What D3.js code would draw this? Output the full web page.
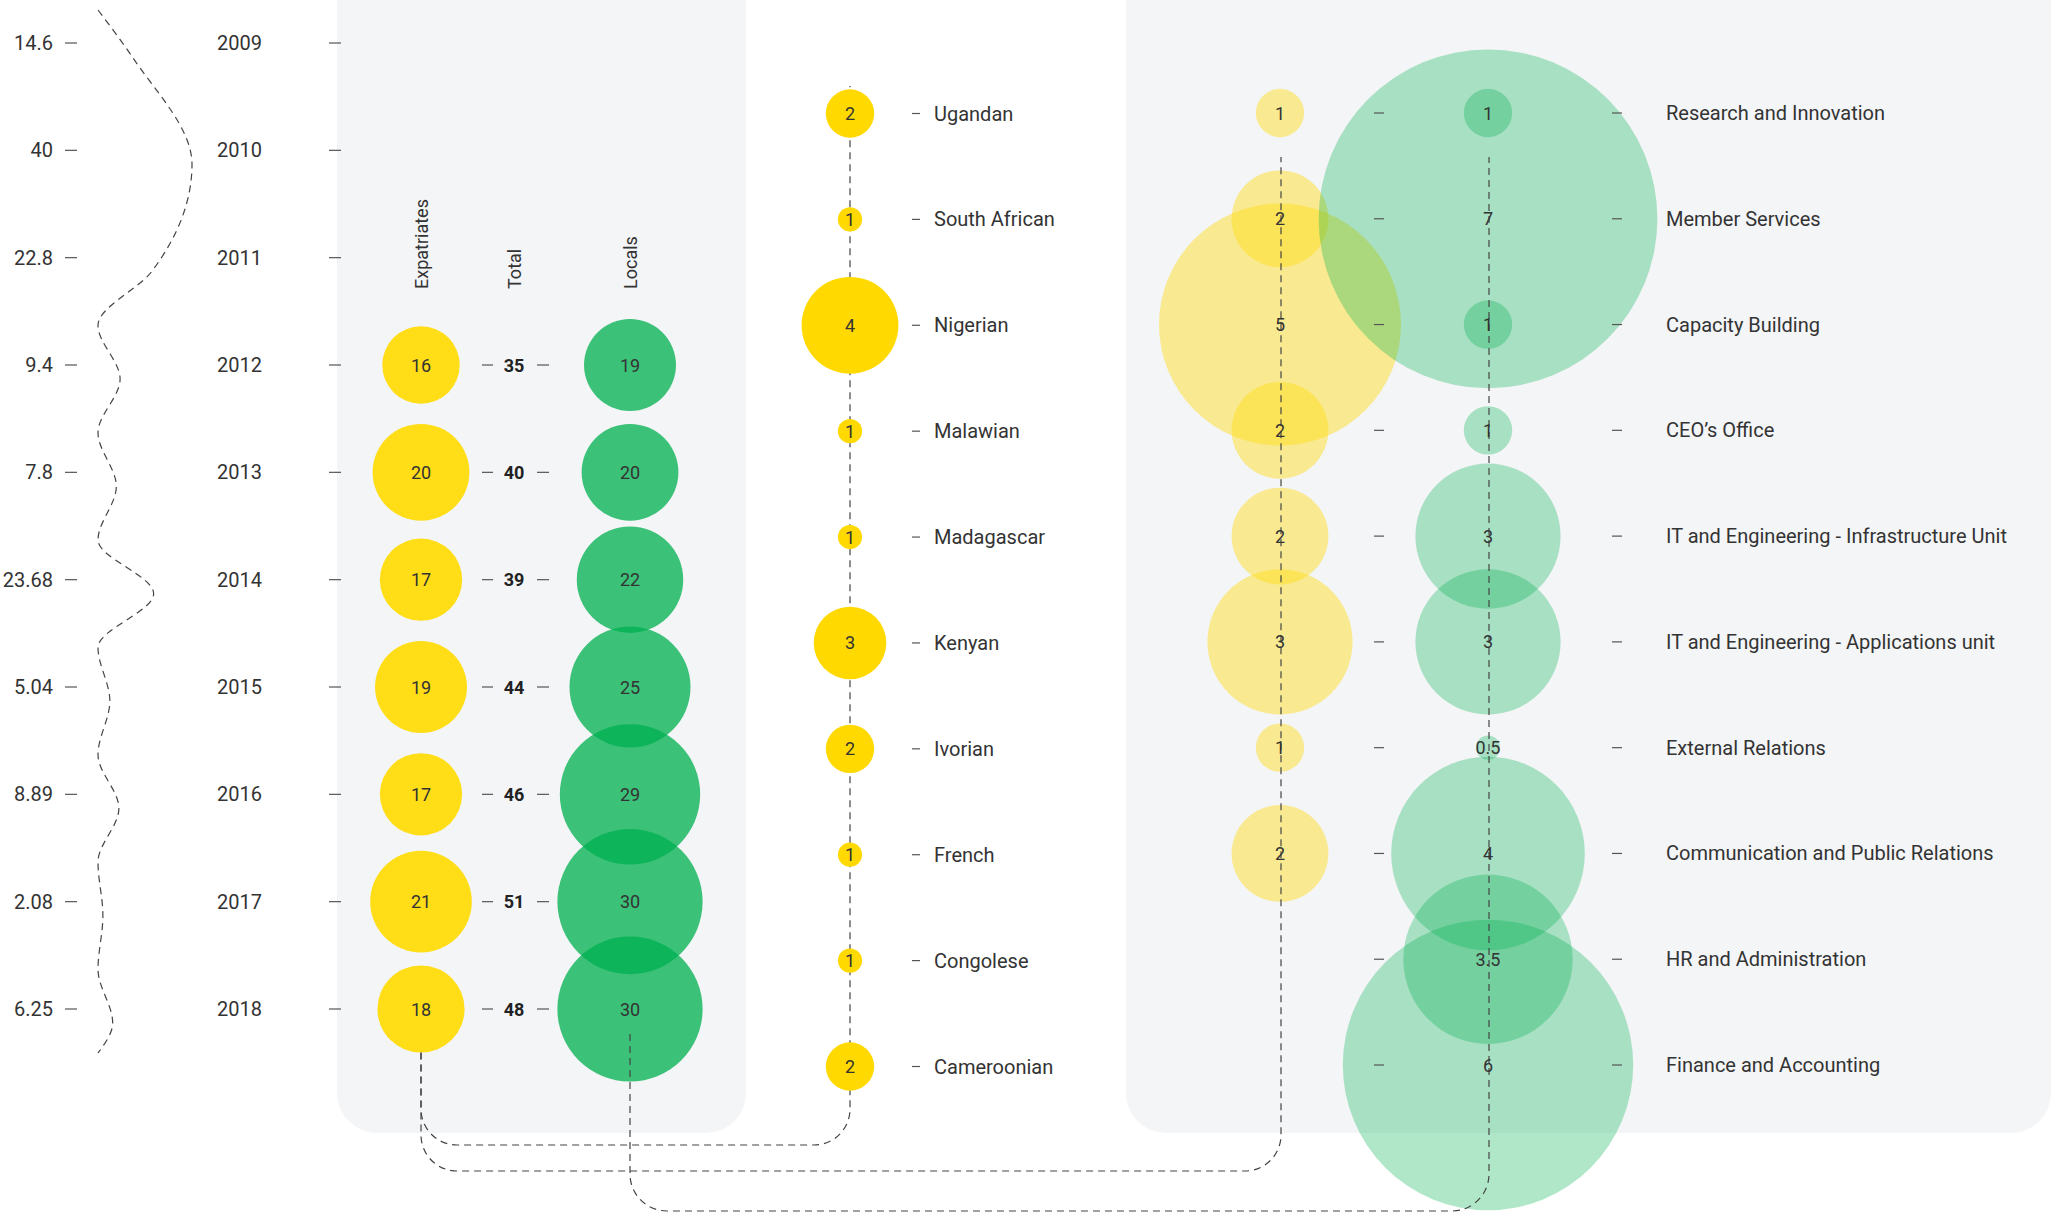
<!DOCTYPE html>
<html>
<head>
<meta charset="utf-8">
<title>Staff composition</title>
<script src="https://d3js.org/d3.v7.min.js"></script>
<style>
    html, body {
        margin: 0;
        padding: 0;
        background: #FFF;
    }
    svg {
        display: block;
        font-family: Roboto, "Noto Sans", sans-serif;
    }
    .label {
        fill: #333;
        font-size: 20px;
        dominant-baseline: central;
    }
    .header {
        fill: #333;
        font-size: 18px;
        dominant-baseline: central;
    }
    .value {
        fill: #333;
        font-size: 18px;
        text-anchor: middle;
        dominant-baseline: central;
    }
    .total {
        fill: #222;
        font-size: 18px;
        font-weight: bold;
        text-anchor: middle;
        dominant-baseline: central;
    }
    .tick {
        stroke: #555;
        stroke-width: 1.2;
    }
    .link {
        fill: none;
        stroke: #444;
        stroke-width: 1.2;
        stroke-dasharray: 7 5;
    }
</style>
</head>
<body>
<svg id="chart" width="2051" height="1213"></svg>
<script>
    // data
    const years = [2009, 2010, 2011, 2012, 2013, 2014, 2015, 2016, 2017, 2018];
    const growth = [14.6, 40, 22.8, 9.4, 7.8, 23.68, 5.04, 8.89, 2.08, 6.25];
    const staffYears = [2012, 2013, 2014, 2015, 2016, 2017, 2018];
    const expatriates = [16, 20, 17, 19, 17, 21, 18];
    const locals = [19, 20, 22, 25, 29, 30, 30];
    const nationalities = ['Ugandan', 'South African', 'Nigerian', 'Malawian', 'Madagascar',
        'Kenyan', 'Ivorian', 'French', 'Congolese', 'Cameroonian'];
    const nationalityCounts = [2, 1, 4, 1, 1, 3, 2, 1, 1, 2];
    const departments = ['Research and Innovation', 'Member Services', 'Capacity Building', 'CEO’s Office',
        'IT and Engineering - Infrastructure Unit', 'IT and Engineering - Applications unit',
        'External Relations', 'Communication and Public Relations', 'HR and Administration',
        'Finance and Accounting'];
    const deptExpatriates = [1, 2, 5, 2, 2, 3, 1, 2, null, null];
    const deptLocals = [1, 7, 1, 1, 3, 3, 0.5, 4, 3.5, 6];

    const yellow = '#FFDD17';
    const green = '#00B050';

    const svg = d3.select('#chart');

    // scales
    const yYear = d3.scalePoint().domain(years).range([43, 1009]);
    const yNat = d3.scalePoint().domain(nationalities).range([113.5, 1066.5]);
    const yDept = d3.scalePoint().domain(departments).range([113, 1065]);
    const rYear = d3.scaleLinear().domain([0, 30]).range([0, 72.6]);
    const rNat = d3.scaleLinear().domain([0, 4]).range([0, 48.4]);
    const rDept = d3.scaleLinear().domain([0, 7]).range([0, 169.4]);
    const xGrowth = d3.scaleLinear().domain([0, 40]).range([98, 192]);

    const xExp = 421, xTot = 514, xLoc = 630;
    const xNat = 850, xNatLabel = 934;
    const xDeptExp = 1281, xDeptLoc = 1489, xDeptLabel = 1666;

    // panels
    const gPanels = svg.append('g');
    gPanels.append('rect')
        .attr('x', 337).attr('y', -60)
        .attr('width', 409).attr('height', 1193)
        .attr('rx', 40).attr('fill', '#F4F5F7');
    gPanels.append('rect')
        .attr('x', 1126).attr('y', -60)
        .attr('width', 925).attr('height', 1193)
        .attr('rx', 40).attr('fill', '#F4F5F7');

    // growth column
    const growthRows = years.map((y, i) => ({year: y, v: growth[i]}));
    svg.append('g').selectAll('text')
        .data(growthRows)
        .join('text')
        .attr('class', 'label')
        .attr('x', 53)
        .attr('y', d => yYear(d.year))
        .attr('text-anchor', 'end')
        .text(d => d.v);
    svg.append('g').selectAll('line')
        .data(growthRows)
        .join('line')
        .attr('class', 'tick')
        .attr('x1', 65).attr('x2', 77)
        .attr('y1', d => yYear(d.year)).attr('y2', d => yYear(d.year));

    // wavy growth line
    const wave = [[xGrowth(0), 10]];
    growthRows.forEach((d, i) => {
        const yy = yYear(d.year) + 14;
        wave.push([xGrowth(d.v), yy]);
        const next = growthRows[i + 1];
        if (next && Math.min(d.v, next.v) < 10) {
            wave.push([xGrowth(0), (yy + yYear(next.year) + 14) / 2]);
        }
    });
    wave.push([xGrowth(0), 1053]);
    svg.append('path')
        .attr('class', 'link')
        .attr('d', d3.line().curve(d3.curveMonotoneY)(wave));

    // years
    svg.append('g').selectAll('text')
        .data(years)
        .join('text')
        .attr('class', 'label')
        .attr('x', 217)
        .attr('y', d => yYear(d))
        .text(d => d);
    svg.append('g').selectAll('line')
        .data(years)
        .join('line')
        .attr('class', 'tick')
        .attr('x1', 329).attr('x2', 341)
        .attr('y1', d => yYear(d)).attr('y2', d => yYear(d));

    // column headers
    [['Expatriates', xExp], ['Total', xTot], ['Locals', xLoc]].forEach(([t, x]) => {
        svg.append('text')
            .attr('class', 'header')
            .attr('transform', `translate(${x},289) rotate(-90)`)
            .text(t);
    });

    // connectors
    function link(points, radius) {
        const p = d3.path();
        p.moveTo(points[0][0], points[0][1]);
        for (let i = 1; i < points.length - 1; i++) {
            p.arcTo(points[i][0], points[i][1], points[i + 1][0], points[i + 1][1], radius);
        }
        const last = points[points.length - 1];
        p.lineTo(last[0], last[1]);
        return p.toString();
    }
    const lastYear = staffYears.length - 1;
    const expBottom = yYear(staffYears[lastYear]) + rYear(expatriates[lastYear]);
    const linkData = [
        [[xExp, expBottom], [xExp, 1145], [xNat, 1145], [xNat, 86]],
        [[xExp, expBottom], [xExp, 1171], [xDeptExp, 1171], [xDeptExp, 157]],
        [[xLoc, yYear(staffYears[lastYear]) + 25], [xLoc, 1211], [xDeptLoc, 1211], [xDeptLoc, 157]]
    ];

    // nationality line goes behind its circles
    svg.append('path').attr('class', 'link').attr('d', link(linkData[0], 36));

    // yearly circles
    const staff = staffYears.map((y, i) => ({year: y, exp: expatriates[i], loc: locals[i]}));
    svg.append('g').selectAll('circle')
        .data(staff)
        .join('circle')
        .attr('cx', xExp)
        .attr('cy', d => yYear(d.year))
        .attr('r', d => rYear(d.exp))
        .attr('fill', yellow);
    svg.append('g').selectAll('circle')
        .data(staff)
        .join('circle')
        .attr('cx', xLoc)
        .attr('cy', d => yYear(d.year))
        .attr('r', d => rYear(d.loc))
        .attr('fill', green)
        .attr('fill-opacity', 0.76);
    svg.append('g').selectAll('text')
        .data(staff)
        .join('text')
        .attr('class', 'value')
        .attr('x', xExp)
        .attr('y', d => yYear(d.year))
        .text(d => d.exp);
    svg.append('g').selectAll('text')
        .data(staff)
        .join('text')
        .attr('class', 'value')
        .attr('x', xLoc)
        .attr('y', d => yYear(d.year))
        .text(d => d.loc);
    svg.append('g').selectAll('text')
        .data(staff)
        .join('text')
        .attr('class', 'total')
        .attr('x', xTot)
        .attr('y', d => yYear(d.year))
        .text(d => d.exp + d.loc);
    svg.append('g').selectAll('line')
        .data(staff.flatMap(d => [[482, 493, d.year], [537, 549, d.year]]))
        .join('line')
        .attr('class', 'tick')
        .attr('x1', d => d[0]).attr('x2', d => d[1])
        .attr('y1', d => yYear(d[2])).attr('y2', d => yYear(d[2]));

    // nationalities
    const nat = nationalities.map((n, i) => ({name: n, v: nationalityCounts[i]}));
    svg.append('g').selectAll('circle')
        .data(nat)
        .join('circle')
        .attr('cx', xNat)
        .attr('cy', d => yNat(d.name))
        .attr('r', d => rNat(d.v))
        .attr('fill', '#FFD900');
    svg.append('g').selectAll('text')
        .data(nat)
        .join('text')
        .attr('class', 'value')
        .attr('x', xNat)
        .attr('y', d => yNat(d.name))
        .text(d => d.v);
    svg.append('g').selectAll('line')
        .data(nat)
        .join('line')
        .attr('class', 'tick')
        .attr('x1', 912).attr('x2', 920)
        .attr('y1', d => yNat(d.name)).attr('y2', d => yNat(d.name));
    svg.append('g').selectAll('text')
        .data(nat)
        .join('text')
        .attr('class', 'label')
        .attr('x', xNatLabel)
        .attr('y', d => yNat(d.name))
        .text(d => d.name);

    // departments
    const dept = departments.map((n, i) => ({name: n, exp: deptExpatriates[i], loc: deptLocals[i]}));
    svg.append('g').selectAll('circle')
        .data(dept.filter(d => d.exp != null))
        .join('circle')
        .attr('cx', xDeptExp - 1)
        .attr('cy', d => yDept(d.name))
        .attr('r', d => rDept(d.exp))
        .attr('fill', yellow)
        .attr('fill-opacity', 0.46);
    svg.append('g').selectAll('circle')
        .data(dept)
        .join('circle')
        .attr('cx', xDeptLoc - 1)
        .attr('cy', d => yDept(d.name))
        .attr('r', d => rDept(d.loc))
        .attr('fill', green)
        .attr('fill-opacity', 0.31);

    // department connectors sit over the translucent circles
    svg.append('path').attr('class', 'link').attr('d', link(linkData[1], 36));
    svg.append('path').attr('class', 'link').attr('d', link(linkData[2], 37));

    svg.append('g').selectAll('text')
        .data(dept.filter(d => d.exp != null))
        .join('text')
        .attr('class', 'value')
        .attr('x', xDeptExp - 1)
        .attr('y', d => yDept(d.name))
        .text(d => d.exp);
    svg.append('g').selectAll('text')
        .data(dept)
        .join('text')
        .attr('class', 'value')
        .attr('x', xDeptLoc - 1)
        .attr('y', d => yDept(d.name))
        .text(d => d.loc);
    svg.append('g').selectAll('line')
        .data(dept.flatMap(d => [[1374, 1384, d.name], [1612, 1622, d.name]]))
        .join('line')
        .attr('class', 'tick')
        .attr('x1', d => d[0]).attr('x2', d => d[1])
        .attr('y1', d => yDept(d[2])).attr('y2', d => yDept(d[2]));
    svg.append('g').selectAll('text')
        .data(dept)
        .join('text')
        .attr('class', 'label')
        .attr('x', xDeptLabel)
        .attr('y', d => yDept(d.name))
        .text(d => d.name);
</script>
</body>
</html>
